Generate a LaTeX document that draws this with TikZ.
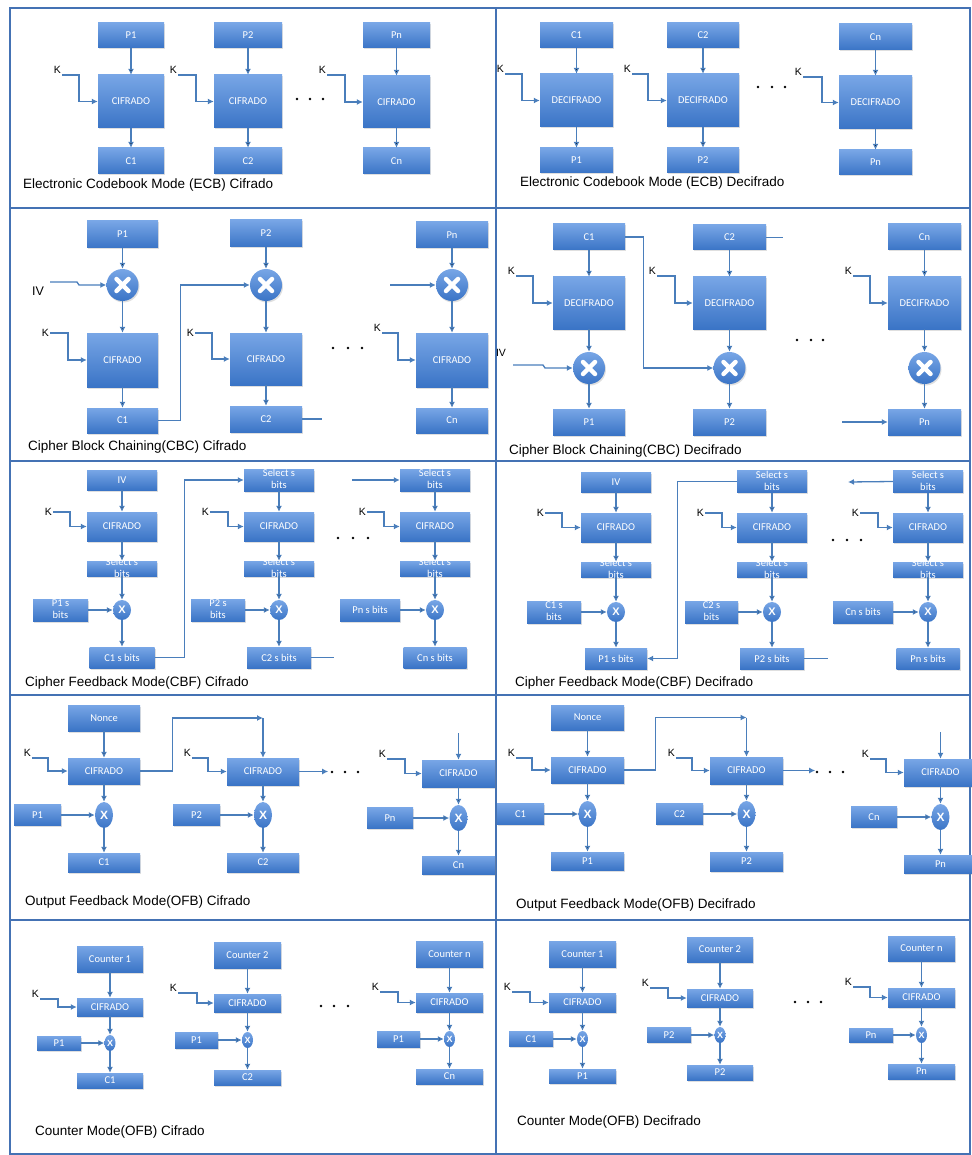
\documentclass[tikz,border=0pt]{standalone}
\usepackage{fontspec}
\setmainfont{Liberation Sans}
\newfontfamily\boxfont{Carlito}
\usetikzlibrary{shapes.geometric, arrows.meta, shadows}

\definecolor{boxtop}{RGB}{120,166,230}
\definecolor{boxbot}{RGB}{58,116,198}
\definecolor{lineblue}{RGB}{74,126,187}
\definecolor{frameblue}{RGB}{68,114,180}

% two lines of text that may run over a thin box
\newcommand{\twoln}[2]{\smash{\raisebox{-0.3em}{\begin{tabular}[c]{@{}c@{}}#1\\#2\end{tabular}}}}

\begin{document}
\begin{tikzpicture}[
  x=1pt, y=-1pt,
  blk/.style={rectangle, top color=boxtop, bottom color=boxbot, text=white, inner sep=1pt,
    font=\boxfont\fontsize{10.5}{12}\selectfont,
    drop shadow={opacity=0.25, shadow xshift=1pt, shadow yshift=-1.5pt}},
  xorbig/.style={circle, minimum size=32, inner sep=0pt, top color=boxtop, bottom color=boxbot,
    drop shadow={opacity=0.25, shadow xshift=1pt, shadow yshift=-1.5pt},
    path picture={\draw[white, line width=4.5pt, line cap=round]
      (path picture bounding box.center) +(-6,-6) -- +(6,6) +(-6,6) -- +(6,-6);}},
  xorsm/.style={ellipse, inner sep=0pt, top color=boxtop, bottom color=boxbot, text=white,
    font=\bfseries\fontsize{11}{11}\selectfont, minimum width=18, minimum height=20},
  arr/.style={draw=lineblue, line width=1.3pt, -{Latex[length=6pt, width=6pt]}},
  ln/.style={draw=lineblue, line width=1.3pt},
  klbl/.style={font=\fontsize{10.5}{12}\selectfont, inner sep=1pt},
  captxt/.style={font=\fontsize{13.5}{15}\selectfont, anchor=west, inner sep=0pt},
  frame/.style={draw=frameblue, line width=2pt}
]
\useasboundingbox (0,0) rectangle (971,1155);

% panel frame
\draw[frame] (10,8) rectangle (970,1154);
\draw[frame] (496,8) -- (496,1154);
\draw[frame] (10,208) -- (970,208) (10,461) -- (970,461) (10,695) -- (970,695) (10,920) -- (970,920);

% ---------- ECB cifrado
\node[blk, minimum width=66, minimum height=25] (ecb-p1) at (131,35.5) {P1};
\node[blk, minimum width=66, minimum height=53] (ecb-e1) at (131,101.5) {CIFRADO};
\node[blk, minimum width=66, minimum height=26] (ecb-c1) at (131,161) {C1};
\node[blk, minimum width=68, minimum height=25] (ecb-p2) at (248,35.5) {P2};
\node[blk, minimum width=68, minimum height=53] (ecb-e2) at (248,101.5) {CIFRADO};
\node[blk, minimum width=68, minimum height=26] (ecb-c2) at (248,161) {C2};
\node[blk, minimum width=67, minimum height=25] (ecb-pn) at (396.5,35.5) {Pn};
\node[blk, minimum width=67, minimum height=52] (ecb-en) at (396.5,102) {CIFRADO};
\node[blk, minimum width=67, minimum height=26] (ecb-cn) at (396.5,161) {Cn};
\node[klbl, anchor=south east] (ecb-k1) at (62,75) {K};
\node[klbl, anchor=south east] (ecb-k2) at (178,75) {K};
\node[klbl, anchor=south east] (ecb-kn) at (327,75) {K};
\draw[arr] (ecb-p1) edge (ecb-e1) (ecb-e1) edge (ecb-c1);
\draw[arr] (ecb-p2) edge (ecb-e2) (ecb-e2) edge (ecb-c2);
\draw[arr] (ecb-pn) edge (ecb-en) (ecb-en) edge (ecb-cn);
\draw[arr] (ecb-k1.south east) -- ++(17,0) |- (ecb-e1.west);
\draw[arr] (ecb-k2.south east) -- ++(18,0) |- (ecb-e2.west);
\draw[arr] (ecb-kn.south east) -- ++(18,0) |- (ecb-en.west);
\fill (297,99) circle (1.3) (310,99) circle (1.3) (323,99) circle (1.3);
\node[captxt] (ecb-t) at (23,185) {Electronic Codebook Mode (ECB) Cifrado};

% ---------- ECB decifrado
\node[blk, minimum width=73, minimum height=25] (decb-c1) at (576.5,35.5) {C1};
\node[blk, minimum width=73, minimum height=53] (decb-d1) at (576.5,100.5) {DECIFRADO};
\node[blk, minimum width=73, minimum height=25] (decb-p1) at (576.5,160.5) {P1};
\node[blk, minimum width=72, minimum height=25] (decb-c2) at (703,35.5) {C2};
\node[blk, minimum width=72, minimum height=53] (decb-d2) at (703,100.5) {DECIFRADO};
\node[blk, minimum width=72, minimum height=25] (decb-p2) at (703,160.5) {P2};
\node[blk, minimum width=73, minimum height=26] (decb-cn) at (875.5,37) {Cn};
\node[blk, minimum width=73, minimum height=53] (decb-dn) at (875.5,102.5) {DECIFRADO};
\node[blk, minimum width=73, minimum height=25] (decb-pn) at (875.5,162.5) {Pn};
\node[klbl, anchor=south east] (decb-k1) at (505,74) {K};
\node[klbl, anchor=south east] (decb-k2) at (632,74) {K};
\node[klbl, anchor=south east] (decb-kn) at (803,77) {K};
\draw[arr] (decb-c1) edge (decb-d1) (decb-d1) edge (decb-p1);
\draw[arr] (decb-c2) edge (decb-d2) (decb-d2) edge (decb-p2);
\draw[arr] (decb-cn) edge (decb-dn) (decb-dn) edge (decb-pn);
\draw[arr] (decb-k1.south east) -- ++(17,0) |- (decb-d1.west);
\draw[arr] (decb-k2.south east) -- ++(16,0) |- (decb-d2.west);
\draw[arr] (decb-kn.south east) -- ++(19,0) |- (decb-dn.west);
\fill (758,87) circle (1.3) (772,87) circle (1.3) (785,87) circle (1.3);
\node[captxt] (decb-t) at (520,183) {Electronic Codebook Mode (ECB) Decifrado};

% ---------- CBC cifrado
\node[blk, minimum width=71, minimum height=27] (cbc-p1) at (122.5,234.5) {P1};
\node[xorbig] (cbc-x1) at (122.5,285) {};
\node[blk, minimum width=71, minimum height=54] (cbc-e1) at (122.5,360) {CIFRADO};
\node[blk, minimum width=71, minimum height=25] (cbc-c1) at (122.5,420.5) {C1};
\node[blk, minimum width=72, minimum height=27] (cbc-p2) at (266,233.5) {P2};
\node[xorbig] (cbc-x2) at (266,285) {};
\node[blk, minimum width=72, minimum height=52] (cbc-e2) at (266,359) {CIFRADO};
\node[blk, minimum width=72, minimum height=26] (cbc-c2) at (266,419) {C2};
\node[blk, minimum width=72, minimum height=26] (cbc-pn) at (452,235) {Pn};
\node[xorbig] (cbc-xn) at (452,285) {};
\node[blk, minimum width=72, minimum height=54] (cbc-en) at (452,360) {CIFRADO};
\node[blk, minimum width=72, minimum height=25] (cbc-cn) at (452,420.5) {Cn};
\node[klbl, font=\fontsize{12.5}{14}\selectfont] (cbc-iv) at (38,291) {IV};
\coordinate (cbc-ivs) at (50,282);
\coordinate (cbc-xin) at (390,285);
\node[klbl, anchor=east] (cbc-k1) at (50,333) {K};
\node[klbl, anchor=east] (cbc-k2) at (195,333) {K};
\node[klbl, anchor=south east] (cbc-kn) at (382,333) {K};
\draw[arr] (cbc-p1) edge (cbc-x1) (cbc-x1) edge (cbc-e1) (cbc-e1) edge (cbc-c1);
\draw[arr] (cbc-p2) edge (cbc-x2) (cbc-x2) edge (cbc-e2) (cbc-e2) edge (cbc-c2);
\draw[arr] (cbc-pn) edge (cbc-xn) (cbc-xn) edge (cbc-en) (cbc-en) edge (cbc-cn);
\draw[arr] (cbc-ivs) -- ++(27,0) -- ++(2,3) -- (cbc-x1.west);
\draw[arr] (cbc-k1.east) -- ++(18,0) |- (cbc-e1.west);
\draw[arr] (cbc-k2.east) -- ++(17,0) |- (cbc-e2.west);
\draw[arr] (cbc-kn.south east) -- ++(16,0) |- (cbc-en.west);
\draw[arr] (cbc-c1.east) -- ++(22,0) |- (cbc-x2.west);
\draw[ln] (cbc-c2.east) -- ++(20,0);
\draw[arr] (cbc-xin) -- (cbc-xn.west);
\fill (333,348) circle (1.3) (348,348) circle (1.3) (362,348) circle (1.3);
\node[captxt] (cbc-t) at (28,447) {Cipher Block Chaining(CBC) Cifrado};

% ---------- CBC decifrado
\node[blk, minimum width=72, minimum height=26] (dcbc-c1) at (589,237) {C1};
\node[blk, minimum width=72, minimum height=52] (dcbc-d1) at (589,303) {DECIFRADO};
\node[xorbig] (dcbc-x1) at (589,368) {};
\node[blk, minimum width=72, minimum height=26] (dcbc-p1) at (589,422) {P1};
\node[blk, minimum width=73, minimum height=25] (dcbc-c2) at (729.5,237.5) {C2};
\node[blk, minimum width=73, minimum height=52] (dcbc-d2) at (729.5,303) {DECIFRADO};
\node[xorbig] (dcbc-x2) at (729.5,368) {};
\node[blk, minimum width=73, minimum height=26] (dcbc-p2) at (729.5,422) {P2};
\node[blk, minimum width=73, minimum height=26] (dcbc-cn) at (924.5,237) {Cn};
\node[blk, minimum width=73, minimum height=52] (dcbc-dn) at (924.5,303) {DECIFRADO};
\node[xorbig] (dcbc-xn) at (924.5,368) {};
\node[blk, minimum width=73, minimum height=26] (dcbc-pn) at (924.5,422) {Pn};
\node[klbl] (dcbc-iv) at (501,353) {IV};
\coordinate (dcbc-ivs) at (513,365);
\coordinate (dcbc-pin) at (842,422);
\node[klbl, anchor=south east] (dcbc-k1) at (516,276) {K};
\node[klbl, anchor=south east] (dcbc-k2) at (657,276) {K};
\node[klbl, anchor=south east] (dcbc-kn) at (853,276) {K};
\draw[arr] (dcbc-c1) edge (dcbc-d1) (dcbc-d1) edge (dcbc-x1) (dcbc-x1) edge (dcbc-p1);
\draw[arr] (dcbc-c2) edge (dcbc-d2) (dcbc-d2) edge (dcbc-x2) (dcbc-x2) edge (dcbc-p2);
\draw[arr] (dcbc-cn) edge (dcbc-dn) (dcbc-dn) edge (dcbc-xn) (dcbc-xn) edge (dcbc-pn);
\draw[arr] (dcbc-ivs) -- ++(30,0) -- ++(2,3) -- (dcbc-x1.west);
\draw[arr] (dcbc-k1.south east) -- ++(17,0) |- (dcbc-d1.west);
\draw[arr] (dcbc-k2.south east) -- ++(18,0) |- (dcbc-d2.west);
\draw[arr] (dcbc-kn.south east) -- ++(17,0) |- (dcbc-dn.west);
\draw[arr] (dcbc-c1.east) -- ++(18,0) |- (dcbc-x2.west);
\draw[ln] (dcbc-c2.east) -- ++(17,0);
\draw[arr] (dcbc-pin) -- (dcbc-pn.west);
\fill (797,340) circle (1.3) (811,340) circle (1.3) (823,340) circle (1.3);
\node[captxt] (dcbc-t) at (509,451) {Cipher Block Chaining(CBC) Decifrado};

% ---------- CFB cifrado
\node[blk, minimum width=70, minimum height=20] (cfb-iv) at (122,480) {IV};
\node[blk, minimum width=70, minimum height=29] (cfb-e1) at (122,526.5) {CIFRADO};
\node[blk, minimum width=70, minimum height=15] (cfb-s1) at (122,568.5) {\twoln{Select s}{bits}};
\node[xorsm] (cfb-x1) at (122,610) {X};
\node[blk, minimum width=55, minimum height=22] (cfb-p1) at (60.5,610) {\twoln{P1 s}{bits}};
\node[blk, minimum width=65, minimum height=21] (cfb-c1) at (122,657.5) {C1 s bits};
\node[blk, minimum width=70, minimum height=22] (cfb-t2) at (279,480) {\twoln{Select s}{bits}};
\node[blk, minimum width=70, minimum height=29] (cfb-e2) at (279,526.5) {CIFRADO};
\node[blk, minimum width=70, minimum height=15] (cfb-s2) at (279,568.5) {\twoln{Select s}{bits}};
\node[xorsm] (cfb-x2) at (279,610) {X};
\node[blk, minimum width=54, minimum height=22] (cfb-p2) at (218,610) {\twoln{P2 s}{bits}};
\node[blk, minimum width=64, minimum height=21] (cfb-c2) at (279,657.5) {C2 s bits};
\node[blk, minimum width=70, minimum height=22] (cfb-tn) at (435,480) {\twoln{Select s}{bits}};
\node[blk, minimum width=70, minimum height=29] (cfb-en) at (435,526.5) {CIFRADO};
\node[blk, minimum width=70, minimum height=15] (cfb-sn) at (435,568.5) {\twoln{Select s}{bits}};
\node[xorsm] (cfb-xn) at (435,610) {X};
\node[blk, minimum width=60, minimum height=22] (cfb-pn) at (370,610) {Pn s bits};
\node[blk, minimum width=63, minimum height=21] (cfb-cn) at (435,657.5) {Cn s bits};
\coordinate (cfb-tin) at (352,480);
\node[klbl, anchor=east] (cfb-k1) at (53,512) {K};
\node[klbl, anchor=east] (cfb-k2) at (210,512) {K};
\node[klbl, anchor=east] (cfb-kn) at (367,512) {K};
\draw[arr] (cfb-iv) edge (cfb-e1) (cfb-e1) edge (cfb-s1) (cfb-s1) edge (cfb-x1) (cfb-x1) edge (cfb-c1) (cfb-p1) edge (cfb-x1);
\draw[arr] (cfb-t2) edge (cfb-e2) (cfb-e2) edge (cfb-s2) (cfb-s2) edge (cfb-x2) (cfb-x2) edge (cfb-c2) (cfb-p2) edge (cfb-x2);
\draw[arr] (cfb-tn) edge (cfb-en) (cfb-en) edge (cfb-sn) (cfb-sn) edge (cfb-xn) (cfb-xn) edge (cfb-cn) (cfb-pn) edge (cfb-xn);
\draw[arr] (cfb-k1.east) -- ++(17,0) |- (cfb-e1.west);
\draw[arr] (cfb-k2.east) -- ++(18,0) |- (cfb-e2.west);
\draw[arr] (cfb-kn.east) -- ++(17,0) |- (cfb-en.west);
\draw[arr] (cfb-c1.east) -- ++(30,0) |- (cfb-t2.west);
\draw[ln] (cfb-c2.east) -- ++(23,0);
\draw[arr] (cfb-tin) -- (cfb-tn.west);
\fill (338,538) circle (1.3) (353,538) circle (1.3) (368,538) circle (1.3);
\node[captxt] (cfb-t) at (25,683) {Cipher Feedback Mode(CBF) Cifrado};

% ---------- CFB decifrado
\node[blk, minimum width=70, minimum height=20] (dcfb-iv) at (616,482) {IV};
\node[blk, minimum width=70, minimum height=29] (dcfb-e1) at (616,527.5) {CIFRADO};
\node[blk, minimum width=70, minimum height=15] (dcfb-s1) at (616,569.5) {\twoln{Select s}{bits}};
\node[xorsm] (dcfb-x1) at (616,612) {X};
\node[blk, minimum width=54, minimum height=22] (dcfb-c1) at (554,612) {\twoln{C1 s}{bits}};
\node[blk, minimum width=62, minimum height=21] (dcfb-p1) at (616,658.5) {P1 s bits};
\node[blk, minimum width=70, minimum height=22] (dcfb-t2) at (772,481.5) {\twoln{Select s}{bits}};
\node[blk, minimum width=70, minimum height=29] (dcfb-e2) at (772,527.5) {CIFRADO};
\node[blk, minimum width=70, minimum height=15] (dcfb-s2) at (772,569.5) {\twoln{Select s}{bits}};
\node[xorsm] (dcfb-x2) at (772,612) {X};
\node[blk, minimum width=53, minimum height=22] (dcfb-c2) at (711.5,612) {\twoln{C2 s}{bits}};
\node[blk, minimum width=64, minimum height=21] (dcfb-p2) at (772,658.5) {P2 s bits};
\node[blk, minimum width=70, minimum height=22] (dcfb-tn) at (928,481.5) {\twoln{Select s}{bits}};
\node[blk, minimum width=70, minimum height=29] (dcfb-en) at (928,527.5) {CIFRADO};
\node[blk, minimum width=70, minimum height=15] (dcfb-sn) at (928,569.5) {\twoln{Select s}{bits}};
\node[xorsm] (dcfb-xn) at (928,612) {X};
\node[blk, minimum width=60, minimum height=22] (dcfb-cn) at (863,612) {Cn s bits};
\node[blk, minimum width=63, minimum height=21] (dcfb-pn) at (928,658.5) {Pn s bits};
\coordinate (dcfb-tout) at (848,482);
\node[klbl, anchor=east] (dcfb-k1) at (545,513) {K};
\node[klbl, anchor=east] (dcfb-k2) at (705,513) {K};
\node[klbl, anchor=east] (dcfb-kn) at (860,513) {K};
\draw[arr] (dcfb-iv) edge (dcfb-e1) (dcfb-e1) edge (dcfb-s1) (dcfb-s1) edge (dcfb-x1) (dcfb-x1) edge (dcfb-p1) (dcfb-c1) edge (dcfb-x1);
\draw[arr] (dcfb-t2) edge (dcfb-e2) (dcfb-e2) edge (dcfb-s2) (dcfb-s2) edge (dcfb-x2) (dcfb-x2) edge (dcfb-p2) (dcfb-c2) edge (dcfb-x2);
\draw[arr] (dcfb-tn) edge (dcfb-en) (dcfb-en) edge (dcfb-sn) (dcfb-sn) edge (dcfb-xn) (dcfb-xn) edge (dcfb-pn) (dcfb-cn) edge (dcfb-xn);
\draw[arr] (dcfb-k1.east) -- ++(17,0) |- (dcfb-e1.west);
\draw[arr] (dcfb-k2.east) -- ++(17,0) |- (dcfb-e2.west);
\draw[arr] (dcfb-kn.east) -- ++(18,0) |- (dcfb-en.west);
\draw[arr] (dcfb-t2.west) -- ++(-59,0) |- (dcfb-p1.east);
\draw[ln] (dcfb-p2.east) -- ++(24,0);
\draw[arr] (dcfb-tn.west) -- (dcfb-tout);
\fill (833,540) circle (1.3) (847,540) circle (1.3) (861,540) circle (1.3);
\node[captxt] (dcfb-t) at (515,683) {Cipher Feedback Mode(CBF) Decifrado};

% ---------- OFB cifrado
\node[blk, minimum width=72, minimum height=26] (ofb-n) at (104,718) {Nonce};
\node[blk, minimum width=72, minimum height=26] (ofb-e1) at (104,771) {CIFRADO};
\node[xorsm, minimum height=26, font=\bfseries\fontsize{12}{12}\selectfont] (ofb-x1) at (104,815) {X};
\node[blk, minimum width=47, minimum height=21] (ofb-p1) at (37.5,815) {P1};
\node[blk, minimum width=72, minimum height=19] (ofb-c1) at (104,862.5) {C1};
\node[blk, minimum width=72, minimum height=27] (ofb-e2) at (263,771.5) {CIFRADO};
\node[xorsm, minimum height=26, font=\bfseries\fontsize{12}{12}\selectfont] (ofb-x2) at (263,815) {X};
\node[blk, minimum width=47, minimum height=21] (ofb-p2) at (196.5,815) {P2};
\node[blk, minimum width=72, minimum height=19] (ofb-c2) at (263,862.5) {C2};
\node[blk, minimum width=73, minimum height=27] (ofb-en) at (458.5,773.5) {CIFRADO};
\node[xorsm, minimum height=26, font=\bfseries\fontsize{12}{12}\selectfont] (ofb-xn) at (458.5,818) {X};
\node[blk, minimum width=46, minimum height=21] (ofb-pn) at (390,818) {Pn};
\node[blk, minimum width=73, minimum height=18] (ofb-cn) at (458.5,865) {Cn};
\coordinate (ofb-fb) at (ofb-e2 |- ofb-n);
\coordinate (ofb-ein) at (458.5,733);
\node[klbl, anchor=south east] (ofb-k1) at (32,758) {K};
\node[klbl, anchor=south east] (ofb-k2) at (192,758) {K};
\node[klbl, anchor=south east] (ofb-kn) at (387,759) {K};
\draw[arr] (ofb-n) edge (ofb-e1) (ofb-e1) edge (ofb-x1) (ofb-x1) edge (ofb-c1) (ofb-p1) edge (ofb-x1);
\draw[arr] (ofb-e2) edge (ofb-x2) (ofb-x2) edge (ofb-c2) (ofb-p2) edge (ofb-x2);
\draw[arr] (ofb-en) edge (ofb-xn) (ofb-xn) edge (ofb-cn) (ofb-pn) edge (ofb-xn);
\draw[arr] (ofb-k1.south east) -- ++(16,0) |- (ofb-e1.west);
\draw[arr] (ofb-k2.south east) -- ++(16,0) |- (ofb-e2.west);
\draw[arr] (ofb-kn.south east) -- ++(18,0) |- (ofb-en.west);
\draw[arr] (ofb-e1.east) -- ++(32,0) |- (ofb-fb);
\draw[arr] (ofb-fb) -- (ofb-e2.north);
\draw[arr] (ofb-e2.east) -- ++(29,0);
\draw[arr] (ofb-ein) -- (ofb-en.north);
\fill (332,772) circle (1.3) (345,772) circle (1.3) (358,772) circle (1.3);
\node[captxt] (ofb-t) at (25,902) {Output Feedback Mode(OFB) Cifrado};

% ---------- OFB decifrado
\node[blk, minimum width=73, minimum height=25] (dofb-n) at (587.5,717.5) {Nonce};
\node[blk, minimum width=73, minimum height=26] (dofb-e1) at (587.5,770) {CIFRADO};
\node[xorsm, minimum height=26, font=\bfseries\fontsize{12}{12}\selectfont] (dofb-x1) at (587.5,814) {X};
\node[blk, minimum width=47, minimum height=21] (dofb-c1) at (520.5,814) {C1};
\node[blk, minimum width=73, minimum height=18] (dofb-p1) at (587.5,861) {P1};
\node[blk, minimum width=73, minimum height=27] (dofb-e2) at (746.5,770.5) {CIFRADO};
\node[xorsm, minimum height=26, font=\bfseries\fontsize{12}{12}\selectfont] (dofb-x2) at (746.5,814) {X};
\node[blk, minimum width=47, minimum height=21] (dofb-c2) at (679.5,814) {C2};
\node[blk, minimum width=73, minimum height=19] (dofb-p2) at (746.5,861.5) {P2};
\node[blk, minimum width=73, minimum height=27] (dofb-en) at (940.5,772.5) {CIFRADO};
\node[xorsm, minimum height=26, font=\bfseries\fontsize{12}{12}\selectfont] (dofb-xn) at (940.5,817) {X};
\node[blk, minimum width=46, minimum height=21] (dofb-cn) at (874,817) {Cn};
\node[blk, minimum width=73, minimum height=18] (dofb-pn) at (940.5,864) {Pn};
\coordinate (dofb-fb) at (dofb-e2 |- dofb-n);
\coordinate (dofb-ein) at (940.5,732);
\node[klbl, anchor=south east] (dofb-k1) at (516,758) {K};
\node[klbl, anchor=south east] (dofb-k2) at (676,758) {K};
\node[klbl, anchor=south east] (dofb-kn) at (870,759) {K};
\draw[arr] (dofb-n) edge (dofb-e1) (dofb-e1) edge (dofb-x1) (dofb-x1) edge (dofb-p1) (dofb-c1) edge (dofb-x1);
\draw[arr] (dofb-e2) edge (dofb-x2) (dofb-x2) edge (dofb-p2) (dofb-c2) edge (dofb-x2);
\draw[arr] (dofb-en) edge (dofb-xn) (dofb-xn) edge (dofb-pn) (dofb-cn) edge (dofb-xn);
\draw[arr] (dofb-k1.south east) -- ++(16,0) |- (dofb-e1.west);
\draw[arr] (dofb-k2.south east) -- ++(16,0) |- (dofb-e2.west);
\draw[arr] (dofb-kn.south east) -- ++(16,0) |- (dofb-en.west);
\draw[arr] (dofb-e1.east) -- ++(31,0) |- (dofb-fb);
\draw[arr] (dofb-fb) -- (dofb-e2.north);
\draw[arr] (dofb-e2.east) -- ++(32,0);
\draw[arr] (dofb-ein) -- (dofb-en.north);
\fill (817,772) circle (1.3) (830,772) circle (1.3) (843,772) circle (1.3);
\node[captxt] (dofb-t) at (516,905) {Output Feedback Mode(OFB) Decifrado};

% ---------- Counter cifrado
\node[blk, minimum width=66, minimum height=26] (ctr-q1) at (110,959) {Counter 1};
\node[blk, minimum width=66, minimum height=18] (ctr-e1) at (110,1007) {CIFRADO};
\node[xorsm, minimum width=11, minimum height=16, font=\bfseries\fontsize{9}{9}\selectfont] (ctr-x1) at (110,1043) {X};
\node[blk, minimum width=44, minimum height=14] (ctr-p1) at (59,1043) {P1};
\node[blk, minimum width=66, minimum height=15] (ctr-c1) at (110,1080.5) {C1};
\node[blk, minimum width=67, minimum height=26] (ctr-q2) at (247.5,955) {Counter 2};
\node[blk, minimum width=67, minimum height=18] (ctr-e2) at (247.5,1003) {CIFRADO};
\node[xorsm, minimum width=11, minimum height=16, font=\bfseries\fontsize{9}{9}\selectfont] (ctr-x2) at (247.5,1040) {X};
\node[blk, minimum width=43, minimum height=16] (ctr-p2) at (196.5,1040) {P1};
\node[blk, minimum width=67, minimum height=15] (ctr-c2) at (247.5,1077.5) {C2};
\node[blk, minimum width=67, minimum height=26] (ctr-qn) at (449.5,954) {Counter n};
\node[blk, minimum width=67, minimum height=19] (ctr-en) at (449.5,1002.5) {CIFRADO};
\node[xorsm, minimum width=11, minimum height=16, font=\bfseries\fontsize{9}{9}\selectfont] (ctr-xn) at (449.5,1039) {X};
\node[blk, minimum width=43, minimum height=16] (ctr-pn) at (398.5,1039) {P1};
\node[blk, minimum width=67, minimum height=15] (ctr-cn) at (449.5,1076.5) {Cn};
\node[klbl, anchor=south east] (ctr-k1) at (40,999) {K};
\node[klbl, anchor=south east] (ctr-k2) at (178,993) {K};
\node[klbl, anchor=south east] (ctr-kn) at (380,992) {K};
\draw[arr] (ctr-q1) edge (ctr-e1) (ctr-e1) edge (ctr-x1) (ctr-x1) edge (ctr-c1) (ctr-p1) edge (ctr-x1);
\draw[arr] (ctr-q2) edge (ctr-e2) (ctr-e2) edge (ctr-x2) (ctr-x2) edge (ctr-c2) (ctr-p2) edge (ctr-x2);
\draw[arr] (ctr-qn) edge (ctr-en) (ctr-en) edge (ctr-xn) (ctr-xn) edge (ctr-cn) (ctr-pn) edge (ctr-xn);
\draw[arr] (ctr-k1.south east) -- ++(18,0) |- (ctr-e1.west);
\draw[arr] (ctr-k2.south east) -- ++(19,0) |- (ctr-e2.west);
\draw[arr] (ctr-kn.south east) -- ++(18,0) |- (ctr-en.west);
\fill (321,1006) circle (1.3) (334,1006) circle (1.3) (348,1006) circle (1.3);
\node[captxt] (ctr-t) at (35,1132) {Counter Mode(OFB) Cifrado};

% ---------- Counter decifrado
\node[blk, minimum width=67, minimum height=26] (dctr-q1) at (582.5,954) {Counter 1};
\node[blk, minimum width=67, minimum height=19] (dctr-e1) at (582.5,1002.5) {CIFRADO};
\node[xorsm, minimum width=11, minimum height=16, font=\bfseries\fontsize{9}{9}\selectfont] (dctr-x1) at (582.5,1039) {X};
\node[blk, minimum width=44, minimum height=15] (dctr-c1) at (531,1039) {C1};
\node[blk, minimum width=67, minimum height=14] (dctr-p1) at (582.5,1076) {P1};
\node[blk, minimum width=66, minimum height=25] (dctr-q2) at (720,949.5) {Counter 2};
\node[blk, minimum width=66, minimum height=18] (dctr-e2) at (720,998) {CIFRADO};
\node[xorsm, minimum width=11, minimum height=16, font=\bfseries\fontsize{9}{9}\selectfont] (dctr-x2) at (720,1035) {X};
\node[blk, minimum width=44, minimum height=15] (dctr-c2) at (669,1035) {P2};
\node[blk, minimum width=66, minimum height=15] (dctr-p2) at (720,1072.5) {P2};
\node[blk, minimum width=67, minimum height=25] (dctr-qn) at (921.5,948.5) {Counter n};
\node[blk, minimum width=67, minimum height=19] (dctr-en) at (921.5,997.5) {CIFRADO};
\node[xorsm, minimum width=11, minimum height=16, font=\bfseries\fontsize{9}{9}\selectfont] (dctr-xn) at (921.5,1035) {X};
\node[blk, minimum width=44, minimum height=14] (dctr-cn) at (871,1035) {Pn};
\node[blk, minimum width=67, minimum height=15] (dctr-pn) at (921.5,1071.5) {Pn};
\node[klbl, anchor=south east] (dctr-k1) at (512,992) {K};
\node[klbl, anchor=south east] (dctr-k2) at (650,988) {K};
\node[klbl, anchor=south east] (dctr-kn) at (853,987) {K};
\draw[arr] (dctr-q1) edge (dctr-e1) (dctr-e1) edge (dctr-x1) (dctr-x1) edge (dctr-p1) (dctr-c1) edge (dctr-x1);
\draw[arr] (dctr-q2) edge (dctr-e2) (dctr-e2) edge (dctr-x2) (dctr-x2) edge (dctr-p2) (dctr-c2) edge (dctr-x2);
\draw[arr] (dctr-qn) edge (dctr-en) (dctr-en) edge (dctr-xn) (dctr-xn) edge (dctr-pn) (dctr-cn) edge (dctr-xn);
\draw[arr] (dctr-k1.south east) -- ++(18,0) |- (dctr-e1.west);
\draw[arr] (dctr-k2.south east) -- ++(18,0) |- (dctr-e2.west);
\draw[arr] (dctr-kn.south east) -- ++(17,0) |- (dctr-en.west);
\fill (795,1002) circle (1.3) (808,1002) circle (1.3) (821,1002) circle (1.3);
\node[captxt] (dctr-t) at (517,1122) {Counter Mode(OFB) Decifrado};

\end{tikzpicture}
\end{document}
